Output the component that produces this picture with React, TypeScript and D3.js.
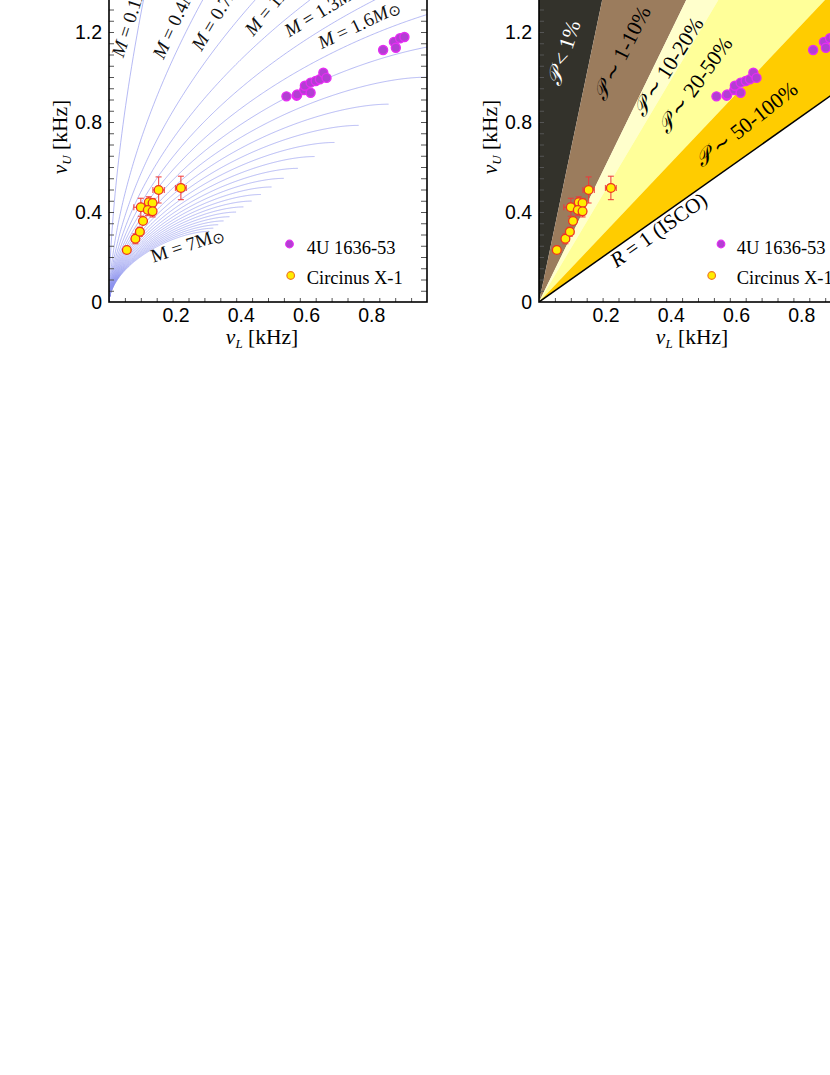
import React, { useRef, useEffect } from "react";
import * as d3 from "d3";

// Neutron star masses (solar units) of the precession-model curves
const masses = [0.1, 0.4, 0.7, 1.0, 1.3, 1.6, 1.9, 2.2, 2.5, 2.8, 3.1, 3.4, 3.7, 4.0, 4.3, 4.6, 4.9, 5.2, 5.5, 5.8, 6.1, 6.4, 6.7, 7.0];
const labelledMasses = ["0.1", "0.4", "0.7", "1", "1.3", "1.6"];

// 4U 1636-53 twin kHz QPOs
const fourUNuL = [0.558, 0.590, 0.592, 0.614, 0.616, 0.634, 0.634, 0.650, 0.663, 0.674, 0.684, 0.862, 0.896, 0.902, 0.915, 0.929];
const fourUNuU = [0.914, 0.917, 0.922, 0.942, 0.961, 0.930, 0.975, 0.982, 0.990, 1.019, 0.996, 1.120, 1.156, 1.130, 1.172, 1.178];

// Circinus X-1 with errors
const circNuL = [0.056, 0.083, 0.097, 0.107, 0.100, 0.125, 0.137, 0.122, 0.137, 0.156, 0.226];
const circNuU = [0.231, 0.281, 0.312, 0.360, 0.421, 0.443, 0.440, 0.409, 0.403, 0.498, 0.507];
const circErrL = [0.004, 0.011, 0.012, 0.006, 0.022, 0.008, 0.008, 0.008, 0.006, 0.018, 0.017];
const circErrU = [0.008, 0.022, 0.020, 0.010, 0.040, 0.025, 0.020, 0.025, 0.025, 0.058, 0.052];

// nu_L / nu_U ratios bounding the probability bands
const bandRatios = [0, 0.148, 0.345, 0.42, 0.67, 1.0];
const bandLabels = ["< 1%", "\u223C 1-10%", "\u223C 10-20%", "\u223C 20-50%", "\u223C 50-100%"];

const xTickLabels = [0.2, 0.4, 0.6, 0.8];
const yTickLabels = [0, 0.4, 0.8, 1.2];

const bandColors = ["#33322b", "#9b7c5d", "#ffffcc", "#ffff99", "#ffcc00"];
const SERIF = "'Liberation Serif', 'Times New Roman', serif";
const SANS = "'Liberation Sans', Arial, sans-serif";

type Sel = d3.Selection<SVGGElement, unknown, null, undefined>;

function massLabel(g: Sel, px: number, py: number, angle: number, value: string, italic: boolean) {
  const t = g.append("text")
    .attr("transform", `translate(${px},${py}) rotate(${angle})`)
    .style("font-family", SERIF)
    .style("font-size", "19px")
    .style("fill", "#111");
  t.append("tspan").style("font-style", italic ? "italic" : "normal").text("M");
  t.append("tspan").text(` = ${value}`);
  t.append("tspan").style("font-style", italic ? "italic" : "normal").text("M");
  t.append("tspan").attr("font-size", "15px").attr("dy", "2").text("\u2299");
}

function drawPanel(svg: d3.Selection<SVGSVGElement, unknown, null, undefined>, x0: number, kind: "mass" | "prob") {
  const y0 = 302;
  const x = d3.scaleLinear().domain([0, 1]).range([x0, x0 + 318]);
  const y = d3.scaleLinear().domain([0, 1.4]).range([y0, y0 - 315]);
  // tick labels in the original sit slightly right of their ticks
  const xLab = d3.scaleLinear().domain([0, 1]).range([x0 + 1.8, x0 + 328]);

  const clipId = `clip-${kind}`;
  svg.append("clipPath").attr("id", clipId)
    .append("rect")
    .attr("x", x(0)).attr("y", y(1.4))
    .attr("width", x(1) - x(0)).attr("height", y(0) - y(1.4));

  const g = svg.append("g");
  const plot = g.append("g").attr("clip-path", `url(#${clipId})`);
  const line = d3.line<[number, number]>().x(d => x(d[0])).y(d => y(d[1]));

  if (kind === "mass") {
    // relativistic precession model: nu_U = nu_K, nu_L = nu_K - nu_r
    masses.forEach(m => {
      const pts: [number, number][] = d3.range(0, 1.00001, 0.002).map(t => {
        const u = 1 - (1 - t) * (1 - t); // 6M / r
        const nuU = (2.198 / m) * Math.pow(u, 1.5);
        return [nuU * (1 - Math.sqrt(1 - u)), nuU];
      });
      plot.append("path")
        .datum(pts)
        .attr("fill", "none")
        .attr("stroke", "#8c93ee")
        .attr("stroke-opacity", 0.8)
        .attr("stroke-width", 0.8)
        .attr("d", line);
    });
  } else {
    const big = 20;
    bandColors.forEach((c, i) => {
      const r1 = bandRatios[i], r2 = bandRatios[i + 1];
      plot.append("path")
        .datum([[0, 0], [r1 * big, big], [r2 * big, big]] as [number, number][])
        .attr("fill", c)
        .attr("d", d => line(d) + "Z");
    });
    plot.append("path")
      .datum([[0, 0], [1.4, 1.4]] as [number, number][])
      .attr("fill", "none")
      .attr("stroke", "#000")
      .attr("stroke-width", 1.5)
      .attr("d", line);
  }

  // inward ticks every 0.05 kHz
  const minorX = d3.range(0.05, 1.0, 0.05);
  const minorY = d3.range(0.05, 1.4, 0.05);
  const tickStyle = (s: Sel) => {
    s.select(".domain").remove();
    s.selectAll("line").attr("stroke", "#555").attr("stroke-width", 1);
  };
  g.append("g").attr("transform", `translate(0,${y0})`)
    .call(d3.axisBottom(x).tickValues(minorX).tickSize(-4).tickFormat(() => ""))
    .call(tickStyle);
  g.append("g").attr("transform", `translate(${x0},0)`)
    .call(d3.axisLeft(y).tickValues(minorY).tickSize(-5).tickFormat(() => ""))
    .call(tickStyle);
  g.append("g").attr("transform", `translate(${x(1)},0)`)
    .call(d3.axisRight(y).tickValues(minorY).tickSize(-6).tickFormat(() => ""))
    .call(tickStyle);

  g.append("rect")
    .attr("x", x(0)).attr("y", y(1.4))
    .attr("width", x(1) - x(0)).attr("height", y(0) - y(1.4))
    .attr("fill", "none")
    .attr("stroke", "#000")
    .attr("stroke-width", 1.6);

  // tick labels
  xTickLabels.forEach(v => {
    g.append("text")
      .attr("x", xLab(v)).attr("y", 321.5)
      .style("text-anchor", "middle")
      .style("font-family", SANS).style("font-size", "19.5px")
      .text(String(v));
  });
  yTickLabels.forEach(v => {
    g.append("text")
      .attr("x", x0 - 7).attr("y", y(v)).attr("dy", "0.36em")
      .style("text-anchor", "end")
      .style("font-family", SANS).style("font-size", "19.5px")
      .text(String(v));
  });

  // axis titles
  const xt = g.append("text")
    .attr("x", x0 + 153).attr("y", 344)
    .style("text-anchor", "middle")
    .style("font-family", SERIF).style("font-size", "21.5px");
  xt.append("tspan").style("font-style", "italic").text("\u03BD");
  xt.append("tspan").style("font-style", "italic").attr("font-size", "13px").attr("dy", "4").text("L");
  xt.append("tspan").attr("dy", "-4").text(" [kHz]");

  const yt = g.append("text")
    .attr("transform", `translate(${x0 - 42.5},137) rotate(-90)`)
    .style("text-anchor", "middle")
    .style("font-family", SERIF).style("font-size", "21.5px");
  yt.append("tspan").style("font-style", "italic").text("\u03BD");
  yt.append("tspan").style("font-style", "italic").attr("font-size", "13px").attr("dy", "4").text("U");
  yt.append("tspan").attr("dy", "-4").text(" [kHz]");

  // panel annotations
  if (kind === "mass") {
    const spots: [number, number, number][] = [
      [0.045, 1.083, -72], [0.171, 1.076, -65], [0.291, 1.112, -59],
      [0.454, 1.179, -50], [0.567, 1.176, -31], [0.669, 1.123, -25.6],
    ];
    labelledMasses.forEach((m, i) => {
      const [lx, ly, a] = spots[i];
      massLabel(g, x(lx), y(ly), a, m, true);
    });
    massLabel(g, x(0.139), y(0.175), -18, "7", false);
  } else {
    const spots: [number, number, number][] = [
      [0.066, 0.954, -72], [0.2075, 0.89, -63], [0.33, 0.816, -57.7],
      [0.405, 0.742, -54.4], [0.5135, 0.594, -38.3],
    ];
    bandLabels.forEach((lab, i) => {
      const [lx, ly, a] = spots[i];
      const t = g.append("text")
        .attr("transform", `translate(${x(lx)},${y(ly)}) rotate(${a})`)
        .style("font-family", SERIF).style("font-size", "21.5px")
        .style("font-style", "italic")
        .style("fill", i === 0 ? "#fff" : "#000");
      t.append("tspan").text("\uD835\uDCAB");
      t.append("tspan").style("font-style", "normal").text(" " + lab);
    });
    const r = g.append("text")
      .attr("transform", `translate(${x(0.244)},${y(0.15)}) rotate(-35.3)`)
      .style("font-family", SERIF).style("font-size", "21px");
    r.append("tspan").style("font-style", "italic").text("R");
    r.append("tspan").text(" = 1 (ISCO)");
  }

  // data
  const pts = g.append("g").attr("clip-path", `url(#${clipId})`);
  fourUNuL.forEach((v, i) => {
    pts.append("circle")
      .attr("cx", x(v)).attr("cy", y(fourUNuU[i])).attr("r", 4.5)
      .attr("fill", "#b23fd2").attr("stroke", "#e42ef2").attr("stroke-width", 1.4);
  });
  circNuL.forEach((v, i) => {
    const cx = x(v), cy = y(circNuU[i]);
    const xa = x(v - circErrL[i]), xb = x(v + circErrL[i]);
    const ya = y(circNuU[i] - circErrU[i]), yb = y(circNuU[i] + circErrU[i]);
    const eb = pts.append("g").attr("stroke", "#ee3a3a").attr("stroke-width", 1.2).attr("stroke-opacity", 0.85);
    eb.append("line").attr("x1", xa).attr("x2", xb).attr("y1", cy).attr("y2", cy);
    eb.append("line").attr("x1", cx).attr("x2", cx).attr("y1", ya).attr("y2", yb);
    eb.append("line").attr("x1", xa).attr("x2", xa).attr("y1", cy - 3).attr("y2", cy + 3);
    eb.append("line").attr("x1", xb).attr("x2", xb).attr("y1", cy - 3).attr("y2", cy + 3);
    eb.append("line").attr("x1", cx - 3).attr("x2", cx + 3).attr("y1", ya).attr("y2", ya);
    eb.append("line").attr("x1", cx - 3).attr("x2", cx + 3).attr("y1", yb).attr("y2", yb);
  });
  circNuL.forEach((v, i) => {
    pts.append("circle")
      .attr("cx", x(v)).attr("cy", y(circNuU[i])).attr("r", 4.4)
      .attr("fill", "#ffee00").attr("stroke", "#ee3322").attr("stroke-width", 1.3);
  });

  // legend
  const dot4 = kind === "mass" ? 180.5 : 182;
  const dotC = kind === "mass" ? 181.7 : 172.7;
  g.append("circle").attr("cx", x0 + dot4).attr("cy", 244).attr("r", 3.8)
    .attr("fill", "#b23fd2").attr("stroke", "#e42ef2").attr("stroke-width", 1.2);
  g.append("circle").attr("cx", x0 + dotC).attr("cy", 275.5).attr("r", 3.8)
    .attr("fill", "#ffee00").attr("stroke", "#ee7722").attr("stroke-width", 1.2);
  g.append("text").attr("x", x0 + 197.7).attr("y", 254.3)
    .style("font-family", SERIF).style("font-size", "18.5px").text("4U 1636-53");
  g.append("text").attr("x", x0 + 197.7).attr("y", 284.3)
    .style("font-family", SERIF).style("font-size", "18.5px").text("Circinus X-1");
}

export default function App() {
  const svgRef = useRef<SVGSVGElement>(null);

  useEffect(() => {
    if (!svgRef.current) return;
    const svg = d3.select(svgRef.current);
    svg.selectAll("*").remove();
    drawPanel(svg, 109, "mass");
    drawPanel(svg, 539, "prob");
  }, []);

  return (
    <svg
      ref={svgRef}
      width={830}
      height={1075}
      style={{ position: "absolute", left: 0, top: 0, background: "#fff" }}
    />
  );
}
